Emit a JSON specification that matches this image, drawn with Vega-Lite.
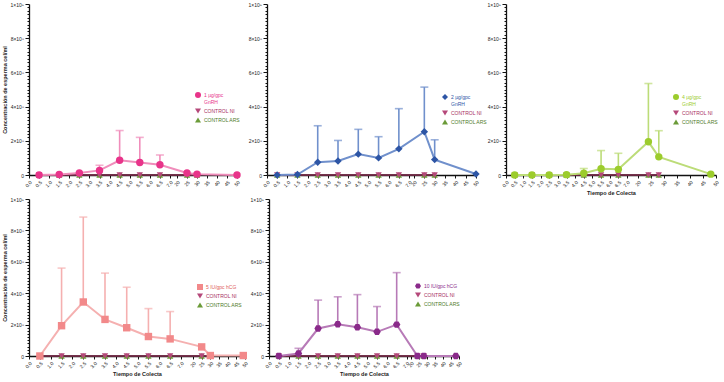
{
 "$schema": "https://vega.github.io/schema/vega-lite/v6.json",
 "background": "white",
 "padding": {"left": 2, "top": 2, "right": 2, "bottom": 2},
 "datasets": {
  "m": [
   {"p":1,"t":0.5,"y":0},{"p":1,"t":1.5,"y":3000000},{"p":1,"t":2.5,"y":12000000},
   {"p":1,"t":3.5,"y":27000000,"e":57000000},{"p":1,"t":4.5,"y":86000000,"e":260000000},
   {"p":1,"t":5.5,"y":73000000,"e":220000000},{"p":1,"t":6.5,"y":60000000,"e":117000000},
   {"p":1,"t":25,"y":12000000},{"p":1,"t":30,"y":5000000},{"p":1,"t":50,"y":0},
   {"p":2,"t":0.5,"y":0},{"p":2,"t":1.5,"y":3000000},{"p":2,"t":2.5,"y":75000000,"e":288000000},
   {"p":2,"t":3.5,"y":82000000,"e":202000000},{"p":2,"t":4.5,"y":122000000,"e":267000000},
   {"p":2,"t":5.5,"y":100000000,"e":224000000},{"p":2,"t":6.5,"y":153000000,"e":388000000},
   {"p":2,"t":25,"y":253000000,"e":514000000},{"p":2,"t":30,"y":90000000,"e":206000000},{"p":2,"t":50,"y":6000000},
   {"p":3,"t":0.5,"y":0},{"p":3,"t":1.5,"y":0},{"p":3,"t":2.5,"y":0},{"p":3,"t":3.5,"y":2000000},
   {"p":3,"t":4.5,"y":10000000,"e":38000000},{"p":3,"t":5.5,"y":37000000,"e":143000000},
   {"p":3,"t":6.5,"y":33000000,"e":127000000},{"p":3,"t":24,"y":194000000,"e":535000000},
   {"p":3,"t":28,"y":106000000,"e":259000000},{"p":3,"t":48,"y":5000000},
   {"p":4,"t":0.5,"y":0},{"p":4,"t":1.5,"y":193000000,"e":560000000},{"p":4,"t":2.5,"y":344000000,"e":885000000},
   {"p":4,"t":3.5,"y":233000000,"e":528000000},{"p":4,"t":4.5,"y":180000000,"e":438000000},
   {"p":4,"t":5.5,"y":124000000,"e":302000000},{"p":4,"t":6.5,"y":109000000,"e":283000000},
   {"p":4,"t":25,"y":58000000},{"p":4,"t":30,"y":3000000},{"p":4,"t":49,"y":3000000},
   {"p":5,"t":0.5,"y":0},{"p":5,"t":1.5,"y":16000000,"e":49000000},{"p":5,"t":2.5,"y":175000000,"e":356000000},
   {"p":5,"t":3.5,"y":202000000,"e":377000000},{"p":5,"t":4.5,"y":183000000,"e":391000000},
   {"p":5,"t":5.5,"y":154000000,"e":315000000},{"p":5,"t":6.5,"y":200000000,"e":531000000},
   {"p":5,"t":24,"y":0},{"p":5,"t":28,"y":0},{"p":5,"t":48,"y":0}
  ],
  "c": [
   {"p":1,"s":"CONTROL ARS","t":0.5,"y":0},{"p":1,"s":"CONTROL ARS","t":1.5,"y":0},{"p":1,"s":"CONTROL ARS","t":2.5,"y":0},{"p":1,"s":"CONTROL ARS","t":3.5,"y":0},{"p":1,"s":"CONTROL ARS","t":4.5,"y":0},{"p":1,"s":"CONTROL ARS","t":5.5,"y":0},{"p":1,"s":"CONTROL ARS","t":6.5,"y":0},{"p":1,"s":"CONTROL ARS","t":25,"y":0},{"p":1,"s":"CONTROL ARS","t":30,"y":0},
   {"p":1,"s":"CONTROL NI","t":0.5,"y":0},{"p":1,"s":"CONTROL NI","t":1.5,"y":0},{"p":1,"s":"CONTROL NI","t":2.5,"y":0},{"p":1,"s":"CONTROL NI","t":3.5,"y":0},{"p":1,"s":"CONTROL NI","t":4.5,"y":0},{"p":1,"s":"CONTROL NI","t":5.5,"y":0},{"p":1,"s":"CONTROL NI","t":6.5,"y":0},{"p":1,"s":"CONTROL NI","t":25,"y":0},{"p":1,"s":"CONTROL NI","t":30,"y":0},
   {"p":2,"s":"CONTROL ARS","t":0.5,"y":0},{"p":2,"s":"CONTROL ARS","t":1.5,"y":0},{"p":2,"s":"CONTROL ARS","t":2.5,"y":0},{"p":2,"s":"CONTROL ARS","t":3.5,"y":0},{"p":2,"s":"CONTROL ARS","t":4.5,"y":0},{"p":2,"s":"CONTROL ARS","t":5.5,"y":0},{"p":2,"s":"CONTROL ARS","t":6.5,"y":0},{"p":2,"s":"CONTROL ARS","t":25,"y":0},{"p":2,"s":"CONTROL ARS","t":30,"y":0},
   {"p":2,"s":"CONTROL NI","t":0.5,"y":0},{"p":2,"s":"CONTROL NI","t":1.5,"y":0},{"p":2,"s":"CONTROL NI","t":2.5,"y":0},{"p":2,"s":"CONTROL NI","t":3.5,"y":0},{"p":2,"s":"CONTROL NI","t":4.5,"y":0},{"p":2,"s":"CONTROL NI","t":5.5,"y":0},{"p":2,"s":"CONTROL NI","t":6.5,"y":0},{"p":2,"s":"CONTROL NI","t":25,"y":0},{"p":2,"s":"CONTROL NI","t":30,"y":0},
   {"p":3,"s":"CONTROL ARS","t":0.5,"y":0},{"p":3,"s":"CONTROL ARS","t":1.5,"y":0},{"p":3,"s":"CONTROL ARS","t":2.5,"y":0},{"p":3,"s":"CONTROL ARS","t":3.5,"y":0},{"p":3,"s":"CONTROL ARS","t":4.5,"y":0},{"p":3,"s":"CONTROL ARS","t":5.5,"y":0},{"p":3,"s":"CONTROL ARS","t":6.5,"y":0},{"p":3,"s":"CONTROL ARS","t":24,"y":0},{"p":3,"s":"CONTROL ARS","t":28,"y":0},
   {"p":3,"s":"CONTROL NI","t":0.5,"y":0},{"p":3,"s":"CONTROL NI","t":1.5,"y":0},{"p":3,"s":"CONTROL NI","t":2.5,"y":0},{"p":3,"s":"CONTROL NI","t":3.5,"y":0},{"p":3,"s":"CONTROL NI","t":4.5,"y":0},{"p":3,"s":"CONTROL NI","t":5.5,"y":0},{"p":3,"s":"CONTROL NI","t":6.5,"y":0},{"p":3,"s":"CONTROL NI","t":24,"y":0},{"p":3,"s":"CONTROL NI","t":28,"y":0},
   {"p":4,"s":"CONTROL ARS","t":0.5,"y":0},{"p":4,"s":"CONTROL ARS","t":1.5,"y":0},{"p":4,"s":"CONTROL ARS","t":2.5,"y":0},{"p":4,"s":"CONTROL ARS","t":3.5,"y":0},{"p":4,"s":"CONTROL ARS","t":4.5,"y":0},{"p":4,"s":"CONTROL ARS","t":5.5,"y":0},{"p":4,"s":"CONTROL ARS","t":6.5,"y":0},{"p":4,"s":"CONTROL ARS","t":25,"y":0},{"p":4,"s":"CONTROL ARS","t":30,"y":0},
   {"p":4,"s":"CONTROL NI","t":0.5,"y":0},{"p":4,"s":"CONTROL NI","t":1.5,"y":0},{"p":4,"s":"CONTROL NI","t":2.5,"y":0},{"p":4,"s":"CONTROL NI","t":3.5,"y":0},{"p":4,"s":"CONTROL NI","t":4.5,"y":0},{"p":4,"s":"CONTROL NI","t":5.5,"y":0},{"p":4,"s":"CONTROL NI","t":6.5,"y":0},{"p":4,"s":"CONTROL NI","t":25,"y":0},{"p":4,"s":"CONTROL NI","t":30,"y":0},
   {"p":5,"s":"CONTROL ARS","t":0.5,"y":0},{"p":5,"s":"CONTROL ARS","t":1.5,"y":0},{"p":5,"s":"CONTROL ARS","t":2.5,"y":0},{"p":5,"s":"CONTROL ARS","t":3.5,"y":0},{"p":5,"s":"CONTROL ARS","t":4.5,"y":0},{"p":5,"s":"CONTROL ARS","t":5.5,"y":0},{"p":5,"s":"CONTROL ARS","t":6.5,"y":0},{"p":5,"s":"CONTROL ARS","t":24,"y":0},{"p":5,"s":"CONTROL ARS","t":28,"y":0},
   {"p":5,"s":"CONTROL NI","t":0.5,"y":0},{"p":5,"s":"CONTROL NI","t":1.5,"y":0},{"p":5,"s":"CONTROL NI","t":2.5,"y":0},{"p":5,"s":"CONTROL NI","t":3.5,"y":0},{"p":5,"s":"CONTROL NI","t":4.5,"y":0},{"p":5,"s":"CONTROL NI","t":5.5,"y":0},{"p":5,"s":"CONTROL NI","t":6.5,"y":0},{"p":5,"s":"CONTROL NI","t":24,"y":0},{"p":5,"s":"CONTROL NI","t":28,"y":0}
  ]
 },
 "spacing": 0,
 "resolve": {"scale": {"color": "independent", "shape": "independent"}, "legend": {"color": "independent", "shape": "independent"}},
 "vconcat": [
  {
   "spacing": 30,
   "bounds": "flush",
   "resolve": {"scale": {"color": "independent", "shape": "independent"}, "legend": {"color": "independent", "shape": "independent"}},
   "hconcat": [
    {
     "width": 208, "height": 171,
     "encoding": {
      "x": {"field": "t", "type": "quantitative", "scale": {"domain": [0, 7, 20, 50], "range": [0, 141, 148, 208]},
            "axis": {"title": null, "values": [0,0.5,1,1.5,2,2.5,3,3.5,4,4.5,5,5.5,6,6.5,7,20,25,30,35,40,45,50], "labelExpr": "datum.value < 10 ? format(datum.value, '.1f') : format(datum.value, 'd')", "labelAngle": -45, "tickSize": 3}},
      "y": {"field": "y", "type": "quantitative", "scale": {"domain": [0, 1000000000], "nice": false},
            "axis": {"title": "Concentración de esperma cel/ml", "values": [0,20000000,40000000,60000000,80000000,100000000,120000000,140000000,160000000,180000000,200000000,220000000,240000000,260000000,280000000,300000000,320000000,340000000,360000000,380000000,400000000,420000000,440000000,460000000,480000000,500000000,520000000,540000000,560000000,580000000,600000000,620000000,640000000,660000000,680000000,700000000,720000000,740000000,760000000,780000000,800000000,820000000,840000000,860000000,880000000,900000000,920000000,940000000,960000000,980000000,1000000000], "labelExpr": "datum.value == 0 ? '0' : datum.value % 200000000 != 0 ? '' : datum.value == 1000000000 ? '1×10⁹' : (datum.value / 100000000) + '×10⁸'", "tickSize": {"condition": {"test": "datum.value % 200000000 == 0", "value": 4}, "value": 2}}}
     },
     "layer": [
      {"data": {"name": "c"}, "transform": [{"filter": "datum.p == 1"}], "mark": {"type": "line", "stroke": "#6e2a44", "strokeWidth": 1.3}, "encoding": {"detail": {"field": "s"}}},
      {"data": {"name": "c"}, "transform": [{"filter": "datum.p == 1"}], "mark": {"type": "point", "filled": true, "opacity": 1, "size": 40},
       "encoding": {"color": {"field": "s", "type": "nominal", "scale": {"domain": ["1 µg/gpc GnRH", "CONTROL NI", "CONTROL ARS"], "range": ["#e8348a", "#b5487a", "#6b9b38"]},
         "legend": {"title": null, "orient": "none", "legendX": 166, "legendY": 88, "labelExpr": "datum.label == '1 µg/gpc GnRH' ? ['1 µg/gpc', 'GnRH'] : datum.label", "encode": {"labels": {"update": {"fill": {"signal": "datum.value == 'CONTROL NI' ? '#a8325f' : datum.value == 'CONTROL ARS' ? '#4e7a28' : '#e8348a'"}}}}}},
        "shape": {"field": "s", "type": "nominal", "scale": {"domain": ["1 µg/gpc GnRH", "CONTROL NI", "CONTROL ARS"], "range": ["circle", "triangle-down", "triangle-up"]}}}},
      {"data": {"name": "m"}, "transform": [{"filter": "datum.p == 1 && isValid(datum.e)"}], "mark": {"type": "rule", "color": "#f08dbb", "strokeWidth": 1.6}, "encoding": {"y2": {"field": "e"}}},
      {"data": {"name": "m"}, "transform": [{"filter": "datum.p == 1 && isValid(datum.e)"}], "mark": {"type": "tick", "orient": "horizontal", "color": "#f08dbb", "thickness": 1.6, "size": 8}, "encoding": {"y": {"field": "e", "type": "quantitative"}}},
      {"data": {"name": "m"}, "transform": [{"filter": "datum.p == 1"}], "mark": {"type": "line", "color": "#f08dbb", "strokeWidth": 2}, "encoding": {}},
      {"data": {"name": "m"}, "transform": [{"filter": "datum.p == 1"}, {"calculate": "'1 µg/gpc GnRH'", "as": "s"}], "mark": {"type": "point", "filled": true, "opacity": 1, "size": 55},
       "encoding": {"color": {"field": "s", "type": "nominal", "scale": {"domain": ["1 µg/gpc GnRH", "CONTROL NI", "CONTROL ARS"], "range": ["#e8348a", "#b5487a", "#6b9b38"]}},
        "shape": {"field": "s", "type": "nominal", "scale": {"domain": ["1 µg/gpc GnRH", "CONTROL NI", "CONTROL ARS"], "range": ["circle", "triangle-down", "triangle-up"]}}}}
     ]
    },
    {
     "width": 209, "height": 171,
     "encoding": {
      "x": {"field": "t", "type": "quantitative", "scale": {"domain": [0, 7, 20, 50], "range": [0, 142, 147, 209]},
            "axis": {"title": null, "values": [0,0.5,1,1.5,2,2.5,3,3.5,4,4.5,5,5.5,6,6.5,7,20,25,30,35,40,45,50], "labelExpr": "datum.value < 10 ? format(datum.value, '.1f') : format(datum.value, 'd')", "labelAngle": -45, "tickSize": 3}},
      "y": {"field": "y", "type": "quantitative", "scale": {"domain": [0, 1000000000], "nice": false},
            "axis": {"title": null, "values": [0,20000000,40000000,60000000,80000000,100000000,120000000,140000000,160000000,180000000,200000000,220000000,240000000,260000000,280000000,300000000,320000000,340000000,360000000,380000000,400000000,420000000,440000000,460000000,480000000,500000000,520000000,540000000,560000000,580000000,600000000,620000000,640000000,660000000,680000000,700000000,720000000,740000000,760000000,780000000,800000000,820000000,840000000,860000000,880000000,900000000,920000000,940000000,960000000,980000000,1000000000], "labelExpr": "datum.value == 0 ? '0' : datum.value % 200000000 != 0 ? '' : datum.value == 1000000000 ? '1×10⁹' : (datum.value / 100000000) + '×10⁸'", "tickSize": {"condition": {"test": "datum.value % 200000000 == 0", "value": 4}, "value": 2}}}
     },
     "layer": [
      {"data": {"name": "c"}, "transform": [{"filter": "datum.p == 2"}], "mark": {"type": "line", "stroke": "#6e2a44", "strokeWidth": 1.3}, "encoding": {"detail": {"field": "s"}}},
      {"data": {"name": "c"}, "transform": [{"filter": "datum.p == 2"}], "mark": {"type": "point", "filled": true, "opacity": 1, "size": 40},
       "encoding": {"color": {"field": "s", "type": "nominal", "scale": {"domain": ["2 µg/gpc GnRH", "CONTROL NI", "CONTROL ARS"], "range": ["#2d55a5", "#b5487a", "#6b9b38"]},
         "legend": {"title": null, "orient": "none", "legendX": 175, "legendY": 90, "labelExpr": "datum.label == '2 µg/gpc GnRH' ? ['2 µg/gpc', 'GnRH'] : datum.label", "encode": {"labels": {"update": {"fill": {"signal": "datum.value == 'CONTROL NI' ? '#a8325f' : datum.value == 'CONTROL ARS' ? '#4e7a28' : '#2d55a5'"}}}}}},
        "shape": {"field": "s", "type": "nominal", "scale": {"domain": ["2 µg/gpc GnRH", "CONTROL NI", "CONTROL ARS"], "range": ["diamond", "triangle-down", "triangle-up"]}}}},
      {"data": {"name": "m"}, "transform": [{"filter": "datum.p == 2 && isValid(datum.e)"}], "mark": {"type": "rule", "color": "#7090cc", "strokeWidth": 1.6}, "encoding": {"y2": {"field": "e"}}},
      {"data": {"name": "m"}, "transform": [{"filter": "datum.p == 2 && isValid(datum.e)"}], "mark": {"type": "tick", "orient": "horizontal", "color": "#7090cc", "thickness": 1.6, "size": 8}, "encoding": {"y": {"field": "e", "type": "quantitative"}}},
      {"data": {"name": "m"}, "transform": [{"filter": "datum.p == 2"}], "mark": {"type": "line", "color": "#7090cc", "strokeWidth": 2}, "encoding": {}},
      {"data": {"name": "m"}, "transform": [{"filter": "datum.p == 2"}, {"calculate": "'2 µg/gpc GnRH'", "as": "s"}], "mark": {"type": "point", "filled": true, "opacity": 1, "size": 55},
       "encoding": {"color": {"field": "s", "type": "nominal", "scale": {"domain": ["2 µg/gpc GnRH", "CONTROL NI", "CONTROL ARS"], "range": ["#2d55a5", "#b5487a", "#6b9b38"]}},
        "shape": {"field": "s", "type": "nominal", "scale": {"domain": ["2 µg/gpc GnRH", "CONTROL NI", "CONTROL ARS"], "range": ["diamond", "triangle-down", "triangle-up"]}}}}
     ]
    },
    {
     "width": 210, "height": 171,
     "encoding": {
      "x": {"field": "t", "type": "quantitative", "scale": {"domain": [0, 7, 20, 50], "range": [0, 121, 132, 210]},
            "axis": {"title": "Tiempo de Colecta", "values": [0,0.5,1,1.5,2,2.5,3,3.5,4,4.5,5,5.5,6,6.5,7,20,25,30,35,40,45,50], "labelExpr": "datum.value < 10 ? format(datum.value, '.1f') : format(datum.value, 'd')", "labelAngle": -45, "tickSize": 3}},
      "y": {"field": "y", "type": "quantitative", "scale": {"domain": [0, 1000000000], "nice": false},
            "axis": {"title": null, "values": [0,20000000,40000000,60000000,80000000,100000000,120000000,140000000,160000000,180000000,200000000,220000000,240000000,260000000,280000000,300000000,320000000,340000000,360000000,380000000,400000000,420000000,440000000,460000000,480000000,500000000,520000000,540000000,560000000,580000000,600000000,620000000,640000000,660000000,680000000,700000000,720000000,740000000,760000000,780000000,800000000,820000000,840000000,860000000,880000000,900000000,920000000,940000000,960000000,980000000,1000000000], "labelExpr": "datum.value == 0 ? '0' : datum.value % 200000000 != 0 ? '' : datum.value == 1000000000 ? '1×10⁹' : (datum.value / 100000000) + '×10⁸'", "tickSize": {"condition": {"test": "datum.value % 200000000 == 0", "value": 4}, "value": 2}}}
     },
     "layer": [
      {"data": {"name": "c"}, "transform": [{"filter": "datum.p == 3"}], "mark": {"type": "line", "stroke": "#6e2a44", "strokeWidth": 1.3}, "encoding": {"detail": {"field": "s"}}},
      {"data": {"name": "c"}, "transform": [{"filter": "datum.p == 3"}], "mark": {"type": "point", "filled": true, "opacity": 1, "size": 40},
       "encoding": {"color": {"field": "s", "type": "nominal", "scale": {"domain": ["4 µg/gpc GnRH", "CONTROL NI", "CONTROL ARS"], "range": ["#9ccc2c", "#b5487a", "#6b9b38"]},
         "legend": {"title": null, "orient": "none", "legendX": 167, "legendY": 90, "labelExpr": "datum.label == '4 µg/gpc GnRH' ? ['4 µg/gpc', 'GnRH'] : datum.label", "encode": {"labels": {"update": {"fill": {"signal": "datum.value == 'CONTROL NI' ? '#a8325f' : datum.value == 'CONTROL ARS' ? '#4e7a28' : '#9ccc2c'"}}}}}},
        "shape": {"field": "s", "type": "nominal", "scale": {"domain": ["4 µg/gpc GnRH", "CONTROL NI", "CONTROL ARS"], "range": ["circle", "triangle-down", "triangle-up"]}}}},
      {"data": {"name": "m"}, "transform": [{"filter": "datum.p == 3 && isValid(datum.e)"}], "mark": {"type": "rule", "color": "#bcdc78", "strokeWidth": 1.6}, "encoding": {"y2": {"field": "e"}}},
      {"data": {"name": "m"}, "transform": [{"filter": "datum.p == 3 && isValid(datum.e)"}], "mark": {"type": "tick", "orient": "horizontal", "color": "#bcdc78", "thickness": 1.6, "size": 8}, "encoding": {"y": {"field": "e", "type": "quantitative"}}},
      {"data": {"name": "m"}, "transform": [{"filter": "datum.p == 3"}], "mark": {"type": "line", "color": "#bcdc78", "strokeWidth": 2}, "encoding": {}},
      {"data": {"name": "m"}, "transform": [{"filter": "datum.p == 3"}, {"calculate": "'4 µg/gpc GnRH'", "as": "s"}], "mark": {"type": "point", "filled": true, "opacity": 1, "size": 55},
       "encoding": {"color": {"field": "s", "type": "nominal", "scale": {"domain": ["4 µg/gpc GnRH", "CONTROL NI", "CONTROL ARS"], "range": ["#9ccc2c", "#b5487a", "#6b9b38"]}},
        "shape": {"field": "s", "type": "nominal", "scale": {"domain": ["4 µg/gpc GnRH", "CONTROL NI", "CONTROL ARS"], "range": ["circle", "triangle-down", "triangle-up"]}}}}
     ]
    }
   ]
  },
  {
   "spacing": 24,
   "bounds": "flush",
   "resolve": {"scale": {"color": "independent", "shape": "independent"}, "legend": {"color": "independent", "shape": "independent"}},
   "hconcat": [
    {
     "width": 216, "height": 157,
     "encoding": {
      "x": {"field": "t", "type": "quantitative", "scale": {"domain": [0, 7, 20, 50], "range": [0, 152, 164, 216]},
            "axis": {"title": "Tiempo de Colecta", "values": [0,0.5,1,1.5,2,2.5,3,3.5,4,4.5,5,5.5,6,6.5,7,20,25,30,35,40,45,50], "labelExpr": "datum.value < 10 ? format(datum.value, '.1f') : format(datum.value, 'd')", "labelAngle": -45, "tickSize": 3}},
      "y": {"field": "y", "type": "quantitative", "scale": {"domain": [0, 1000000000], "nice": false},
            "axis": {"title": "Concentración de esperma cel/ml", "values": [0,20000000,40000000,60000000,80000000,100000000,120000000,140000000,160000000,180000000,200000000,220000000,240000000,260000000,280000000,300000000,320000000,340000000,360000000,380000000,400000000,420000000,440000000,460000000,480000000,500000000,520000000,540000000,560000000,580000000,600000000,620000000,640000000,660000000,680000000,700000000,720000000,740000000,760000000,780000000,800000000,820000000,840000000,860000000,880000000,900000000,920000000,940000000,960000000,980000000,1000000000], "labelExpr": "datum.value == 0 ? '0' : datum.value % 200000000 != 0 ? '' : datum.value == 1000000000 ? '1×10⁹' : (datum.value / 100000000) + '×10⁸'", "tickSize": {"condition": {"test": "datum.value % 200000000 == 0", "value": 4}, "value": 2}}}
     },
     "layer": [
      {"data": {"name": "c"}, "transform": [{"filter": "datum.p == 4"}], "mark": {"type": "line", "stroke": "#6e2a44", "strokeWidth": 1.3}, "encoding": {"detail": {"field": "s"}}},
      {"data": {"name": "c"}, "transform": [{"filter": "datum.p == 4"}], "mark": {"type": "point", "filled": true, "opacity": 1, "size": 40},
       "encoding": {"color": {"field": "s", "type": "nominal", "scale": {"domain": ["5 IU/gpc hCG", "CONTROL NI", "CONTROL ARS"], "range": ["#f2898a", "#b5487a", "#6b9b38"]},
         "legend": {"title": null, "orient": "none", "legendX": 168, "legendY": 85, "encode": {"labels": {"update": {"fill": {"signal": "datum.value == 'CONTROL NI' ? '#a8325f' : datum.value == 'CONTROL ARS' ? '#4e7a28' : '#e0605a'"}}}}}},
        "shape": {"field": "s", "type": "nominal", "scale": {"domain": ["5 IU/gpc hCG", "CONTROL NI", "CONTROL ARS"], "range": ["square", "triangle-down", "triangle-up"]}}}},
      {"data": {"name": "m"}, "transform": [{"filter": "datum.p == 4 && isValid(datum.e)"}], "mark": {"type": "rule", "color": "#f5b0b0", "strokeWidth": 1.6}, "encoding": {"y2": {"field": "e"}}},
      {"data": {"name": "m"}, "transform": [{"filter": "datum.p == 4 && isValid(datum.e)"}], "mark": {"type": "tick", "orient": "horizontal", "color": "#f5b0b0", "thickness": 1.6, "size": 8}, "encoding": {"y": {"field": "e", "type": "quantitative"}}},
      {"data": {"name": "m"}, "transform": [{"filter": "datum.p == 4"}], "mark": {"type": "line", "color": "#f5b0b0", "strokeWidth": 2}, "encoding": {}},
      {"data": {"name": "m"}, "transform": [{"filter": "datum.p == 4"}, {"calculate": "'5 IU/gpc hCG'", "as": "s"}], "mark": {"type": "point", "filled": true, "opacity": 1, "size": 55},
       "encoding": {"color": {"field": "s", "type": "nominal", "scale": {"domain": ["5 IU/gpc hCG", "CONTROL NI", "CONTROL ARS"], "range": ["#f2898a", "#b5487a", "#6b9b38"]}},
        "shape": {"field": "s", "type": "nominal", "scale": {"domain": ["5 IU/gpc hCG", "CONTROL NI", "CONTROL ARS"], "range": ["square", "triangle-down", "triangle-up"]}}}}
     ]
    },
    {
     "width": 190, "height": 157,
     "encoding": {
      "x": {"field": "t", "type": "quantitative", "scale": {"domain": [0, 7, 20, 50], "range": [0, 137.5, 142, 190]},
            "axis": {"title": "Tiempo de Colecta", "values": [0,0.5,1,1.5,2,2.5,3,3.5,4,4.5,5,5.5,6,6.5,7,20,25,30,35,40,45,50], "labelExpr": "datum.value < 10 ? format(datum.value, '.1f') : format(datum.value, 'd')", "labelAngle": -45, "tickSize": 3}},
      "y": {"field": "y", "type": "quantitative", "scale": {"domain": [0, 1000000000], "nice": false},
            "axis": {"title": null, "values": [0,20000000,40000000,60000000,80000000,100000000,120000000,140000000,160000000,180000000,200000000,220000000,240000000,260000000,280000000,300000000,320000000,340000000,360000000,380000000,400000000,420000000,440000000,460000000,480000000,500000000,520000000,540000000,560000000,580000000,600000000,620000000,640000000,660000000,680000000,700000000,720000000,740000000,760000000,780000000,800000000,820000000,840000000,860000000,880000000,900000000,920000000,940000000,960000000,980000000,1000000000], "labelExpr": "datum.value == 0 ? '0' : datum.value % 200000000 != 0 ? '' : datum.value == 1000000000 ? '1×10⁹' : (datum.value / 100000000) + '×10⁸'", "tickSize": {"condition": {"test": "datum.value % 200000000 == 0", "value": 4}, "value": 2}}}
     },
     "layer": [
      {"data": {"name": "c"}, "transform": [{"filter": "datum.p == 5"}], "mark": {"type": "line", "stroke": "#6e2a44", "strokeWidth": 1.3}, "encoding": {"detail": {"field": "s"}}},
      {"data": {"name": "c"}, "transform": [{"filter": "datum.p == 5"}], "mark": {"type": "point", "filled": true, "opacity": 1, "size": 40},
       "encoding": {"color": {"field": "s", "type": "nominal", "scale": {"domain": ["10 IU/gpc hCG", "CONTROL NI", "CONTROL ARS"], "range": ["#8a2a8a", "#b5487a", "#6b9b38"]},
         "legend": {"title": null, "orient": "none", "legendX": 146, "legendY": 84, "encode": {"labels": {"update": {"fill": {"signal": "datum.value == 'CONTROL NI' ? '#a8325f' : datum.value == 'CONTROL ARS' ? '#4e7a28' : '#8a2a8a'"}}}}}},
        "shape": {"field": "s", "type": "nominal", "scale": {"domain": ["10 IU/gpc hCG", "CONTROL NI", "CONTROL ARS"], "range": ["M-1,0L-0.5,-0.866L0.5,-0.866L1,0L0.5,0.866L-0.5,0.866Z", "triangle-down", "triangle-up"]}}}},
      {"data": {"name": "m"}, "transform": [{"filter": "datum.p == 5 && isValid(datum.e)"}], "mark": {"type": "rule", "color": "#b77ab7", "strokeWidth": 1.6}, "encoding": {"y2": {"field": "e"}}},
      {"data": {"name": "m"}, "transform": [{"filter": "datum.p == 5 && isValid(datum.e)"}], "mark": {"type": "tick", "orient": "horizontal", "color": "#b77ab7", "thickness": 1.6, "size": 8}, "encoding": {"y": {"field": "e", "type": "quantitative"}}},
      {"data": {"name": "m"}, "transform": [{"filter": "datum.p == 5"}], "mark": {"type": "line", "color": "#b77ab7", "strokeWidth": 2}, "encoding": {}},
      {"data": {"name": "m"}, "transform": [{"filter": "datum.p == 5"}, {"calculate": "'10 IU/gpc hCG'", "as": "s"}], "mark": {"type": "point", "filled": true, "opacity": 1, "size": 55},
       "encoding": {"color": {"field": "s", "type": "nominal", "scale": {"domain": ["10 IU/gpc hCG", "CONTROL NI", "CONTROL ARS"], "range": ["#8a2a8a", "#b5487a", "#6b9b38"]}},
        "shape": {"field": "s", "type": "nominal", "scale": {"domain": ["10 IU/gpc hCG", "CONTROL NI", "CONTROL ARS"], "range": ["M-1,0L-0.5,-0.866L0.5,-0.866L1,0L0.5,0.866L-0.5,0.866Z", "triangle-down", "triangle-up"]}}}}
     ]
    }
   ]
  }
 ],
 "config": {
  "view": {"stroke": null},
  "font": "Liberation Sans",
  "axis": {"labelFont": "Liberation Sans", "labelFontSize": 5, "labelColor": "#222222", "titleFont": "Liberation Sans", "titleFontSize": 5.5, "titleFontWeight": "bold", "titleColor": "#222222", "domainColor": "#111111", "domainWidth": 1.3, "tickColor": "#111111", "tickWidth": 1, "grid": false, "labelOverlap": false, "labelPadding": 1.5, "titlePadding": 3},
  "legend": {"labelFont": "Liberation Sans", "labelFontSize": 5, "symbolSize": 36, "rowPadding": 3, "padding": 0, "labelOffset": 3, "symbolStrokeWidth": 0, "symbolOpacity": 1}
 }
}
